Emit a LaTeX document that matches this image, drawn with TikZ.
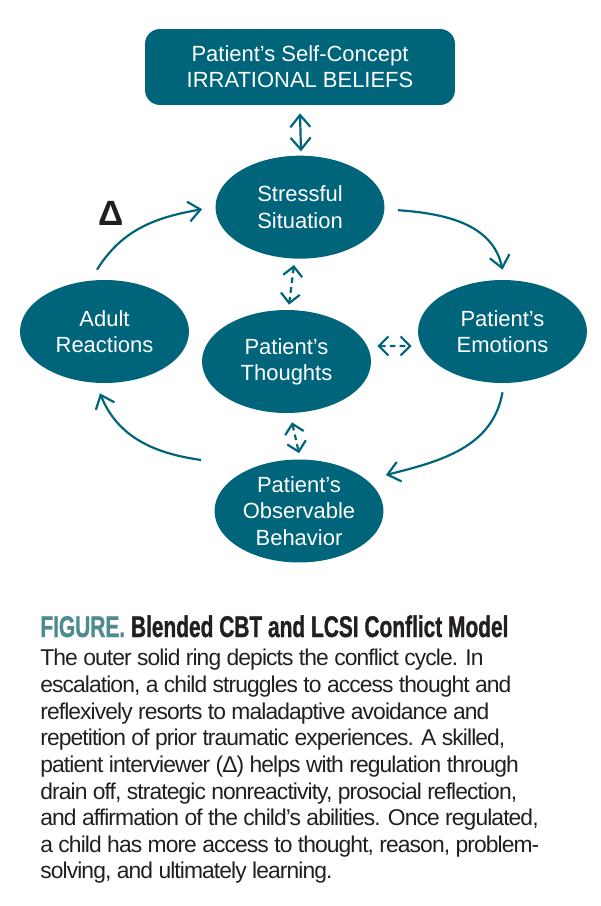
\documentclass[tikz,border=0pt]{standalone}
\usepackage{fontspec}
\usepackage{tikz}
\usetikzlibrary{arrows.meta,positioning,shapes.geometric}
\setmainfont{Liberation Sans}
\newfontfamily\titlefont[FakeStretch=0.7,FakeBold=1]{Liberation Sans Bold}
\newfontfamily\capfont[LetterSpace=-4]{Liberation Sans}
\definecolor{cbtteal}{HTML}{00657B}
\definecolor{figteal}{HTML}{4E8B8E}
\definecolor{ink}{HTML}{231F20}
\tikzset{beliefbox/.style={
    % The shape:
    rectangle,rounded corners=3mm,
    % The size:
    minimum width=6.2cm,
    minimum height=1.52cm,
    % The filling:
    fill=cbtteal,
    % Font
    text=white,align=center,
    font=\fontsize{12.5}{14.8}\selectfont
    },
    bubble/.style={
    ellipse,
    minimum width=3.38cm,
    minimum height=2.06cm,
    inner sep=0pt,
    fill=cbtteal,
    text=white,align=center,
    font=\fontsize{12.5}{15}\selectfont
    },
    ring/.style={
    draw=cbtteal,line width=1.25pt,
    -{Straight Barb[length=2.4mm,width=4mm]},
    },
    biarrow/.style={
    draw=cbtteal,line width=1.25pt,
    {Straight Barb[length=2.4mm,width=4mm]}-{Straight Barb[length=2.4mm,width=4mm]},
    },
    dasharrow/.style={
    draw=cbtteal,line width=1.25pt,dash pattern=on 3.2pt off 2.4pt,
    {Straight Barb[length=1.9mm,width=3.8mm]}-{Straight Barb[length=1.9mm,width=3.8mm]},
    },
}

\begin{document}
\begin{tikzpicture}[x=0.02cm,y=0.02cm,node distance=1cm]
    \useasboundingbox (0,0) rectangle (600,-906);

    \node (belief)   [beliefbox] at (300,-67)      {Patient’s Self-Concept\\IRRATIONAL BELIEFS};
    \node (stress)   [bubble,below=of belief]       {Stressful\\Situation};
    \node (adult)    [bubble] at (104.5,-331.5)     {Adult\\Reactions};
    \node (emotion)  [bubble] at (502.5,-331.5)     {Patient’s\\Emotions};
    \node (thought)  [bubble] at (286.5,-361.5)     {Patient’s\\Thoughts};
    \node (behavior) [bubble] at (299,-511)         {Patient’s\\Observable\\Behavior};
    \node (delta)    [font=\fontsize{20}{20}\selectfont\bfseries,text=ink] at (111.5,-213) {Δ};

    % outer ring
    \draw[ring] ([shift={(-7.5,10)}]adult.north) to[out=58,in=190] ([shift={(-13,-2)}]stress.west);
    \draw[ring] ([shift={(13,-3)}]stress.east) to[out=-4,in=102] ([shift={(0,10)}]emotion.north);
    \draw[ring] ([shift={(0,-9)}]emotion.south) to[out=-100,in=14] ([shift={(2,36)}]behavior.east);
    \draw[ring] ([shift={(-13,51)}]behavior.west) to[out=172,in=-68] ([shift={(-4.5,-10)}]adult.south);

    % links to the thoughts
    \draw[biarrow] ([shift={(0,-8)}]belief.south) -- ([shift={(1,4)}]stress.north);
    \draw[dasharrow] ([shift={(-6,-6)}]stress.south) -- ([shift={(2.5,5)}]thought.north);
    \draw[dasharrow] ([shift={(6,15.5)}]thought.east) -- ([shift={(-6,-14.5)}]emotion.west);
    \draw[dasharrow] ([shift={(5.5,-9)}]thought.south) -- ([shift={(0,6)}]behavior.north);

    \node (title) [anchor=base west,inner sep=0pt,font=\titlefont\fontsize{17}{17}\selectfont]
        at (40,-637) {\color{figteal}FIGURE. \color{ink}Blended CBT and LCSI Conflict Model};
    \node (caption) [anchor=north west,inner sep=0pt,align=left,text=ink,
        font=\capfont\fontsize{13}{15.15}\selectfont] at (40,-649)
        {The outer solid ring depicts the conflict cycle. In\\
         escalation, a child struggles to access thought and\\
         reflexively resorts to maladaptive avoidance and\\
         repetition of prior traumatic experiences. A skilled,\\
         patient interviewer (Δ) helps with regulation through\\
         drain off, strategic nonreactivity, prosocial reflection,\\
         and affirmation of the child’s abilities. Once regulated,\\
         a child has more access to thought, reason, problem-\\
         solving, and ultimately learning.};
\end{tikzpicture}
\end{document}
